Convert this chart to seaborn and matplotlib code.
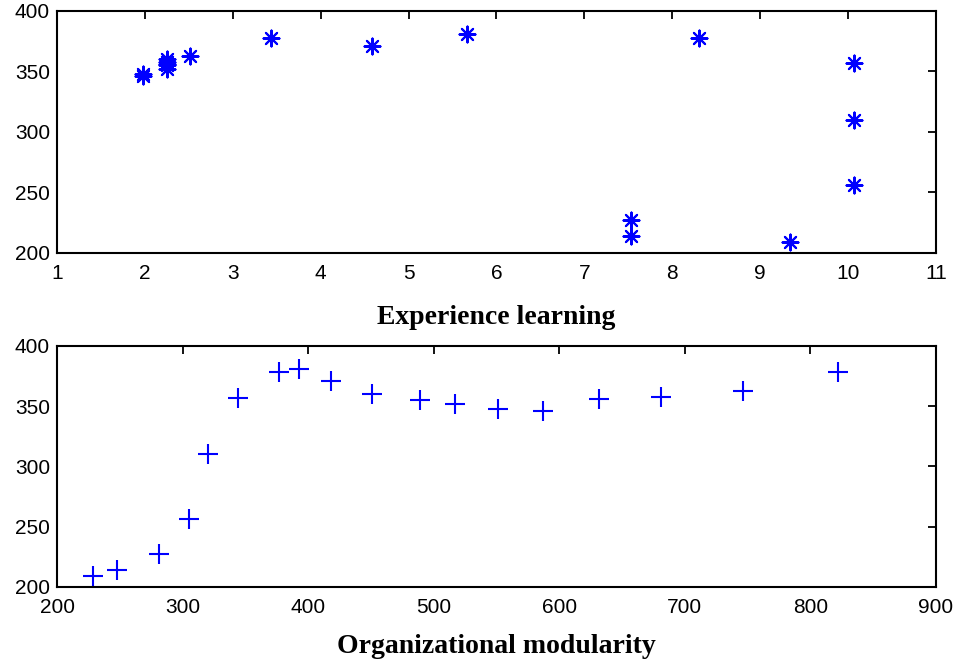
import matplotlib
matplotlib.use("Agg")
import matplotlib.pyplot as plt
import seaborn as sns

# valores
performance = [209, 214, 227, 256, 310, 357, 378, 381, 371, 360,
               355, 352, 348, 346, 356, 358, 363, 378]
experience = [9.34, 7.53, 7.53, 10.07, 10.07, 10.07, 8.30, 5.66, 4.58, 2.25,
              2.25, 2.25, 1.98, 1.98, 2.25, 2.25, 2.51, 3.44]
modularity = [229, 248, 281, 305, 320, 344, 377, 393, 418, 451,
              489, 517, 551, 587, 632, 681, 746, 822]

x_ticks_top = list(range(1, 12))
x_ticks_bot = list(range(200, 901, 100))
y_ticks = [200, 250, 300, 350, 400]

sns.set_style("white")
plt.rcParams['font.family'] = ['Liberation Sans', 'DejaVu Sans']
plt.rcParams['text.color'] = 'black'
plt.rcParams['axes.labelcolor'] = 'black'

fig = plt.figure(figsize=(9.68, 6.64), dpi=100)
ax1 = fig.add_axes([0.0589, 0.619, 0.908, 0.3645])
ax2 = fig.add_axes([0.0589, 0.116, 0.908, 0.363])

# asterisco estilo MATLAB: 8 raios
asterisco = (8, 2, 0)
sns.scatterplot(x=experience, y=performance, marker=asterisco, color='#0000ff',
                s=130, linewidth=1.5, ax=ax1)
sns.scatterplot(x=modularity, y=performance, marker='+', color='#0000ff',
                s=200, linewidth=1.5, ax=ax2)

for ax, xt, lbl, lp in [(ax1, x_ticks_top, 'Experience learning', 16),
                        (ax2, x_ticks_bot, 'Organizational modularity', 12)]:
    ax.set_xlim(xt[0], xt[-1])
    ax.set_ylim(200, 400)
    ax.set_xticks(xt)
    ax.set_yticks(y_ticks)
    ax.tick_params(direction='in', length=6, width=1.3, labelsize=15,
                   top=True, right=True, colors='black', labelcolor='black', pad=5)
    ax.tick_params(axis='x', pad=8)
    for sp in ax.spines.values():
        sp.set_visible(True)
        sp.set_color('black')
        sp.set_linewidth(1.5)
    ax.set_xlabel(lbl, family='Liberation Serif', fontweight='bold',
                  fontsize=20, labelpad=lp, color='black')
    ax.set_ylabel('')

fig.savefig('out.png', dpi=100)
